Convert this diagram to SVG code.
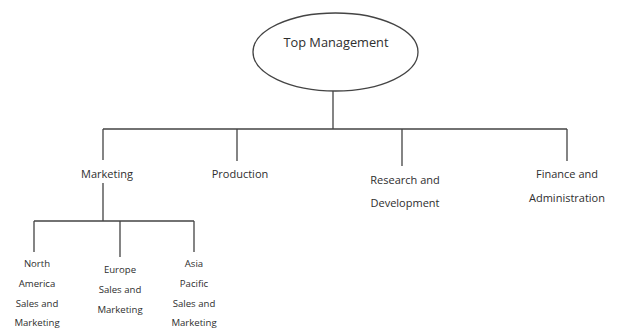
<svg xmlns="http://www.w3.org/2000/svg" width="619" height="329" viewBox="0 0 619 329">
  <style>
    .line { stroke: #444; stroke-width: 1.3; fill: none; }
    .shape { stroke: #444; stroke-width: 1.3; fill: #fff; }
    text { font-family: "Open Sans", "Liberation Sans", sans-serif; fill: #2e2e2e; text-anchor: middle; dominant-baseline: central; }
    .top { font-size: 12.8px; }
    .lbl { font-size: 11px; }
    .sub { font-size: 9.6px; }
  </style>
  <rect width="619" height="329" fill="#fff"/>

  <!-- connectors -->
  <g id="connectors">
    <path class="line" d="M333 91 V129 M103 129 H567 M103 129 V160 M237 129 V161 M402 129 V166 M567 129 V161"/>
    <path class="line" d="M103 183 V221 M34 221 H194 M34 221 V252 M120 221 V257 M194 221 V252"/>
  </g>

  <g id="top-management">
    <ellipse class="shape" cx="335.5" cy="52" rx="82.5" ry="39"/>
    <text class="top" x="336" y="42">Top Management</text>
  </g>
  <g id="marketing">
    <text class="lbl" x="107" y="173">Marketing</text>
  </g>
  <g id="production">
    <text class="lbl" x="240" y="173">Production</text>
  </g>
  <g id="research">
    <text class="lbl" x="405" y="179">Research and</text>
    <text class="lbl" x="405" y="202">Development</text>
  </g>
  <g id="finance">
    <text class="lbl" x="567" y="173">Finance and</text>
    <text class="lbl" x="567" y="197">Administration</text>
  </g>
  <g id="north-america">
    <text class="sub" x="37" y="263">North</text>
    <text class="sub" x="37" y="283">America</text>
    <text class="sub" x="37" y="303">Sales and</text>
    <text class="sub" x="37" y="322">Marketing</text>
  </g>
  <g id="europe">
    <text class="sub" x="120" y="269">Europe</text>
    <text class="sub" x="120" y="289">Sales and</text>
    <text class="sub" x="120" y="309">Marketing</text>
  </g>
  <g id="asia-pacific">
    <text class="sub" x="194" y="263">Asia</text>
    <text class="sub" x="194" y="283">Pacific</text>
    <text class="sub" x="194" y="303">Sales and</text>
    <text class="sub" x="194" y="322">Marketing</text>
  </g>
</svg>
